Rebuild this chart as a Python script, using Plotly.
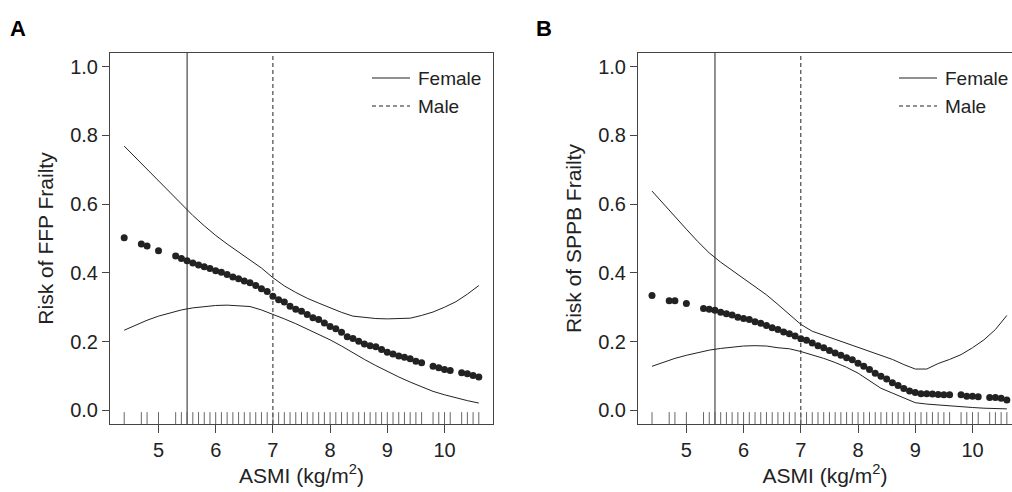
import plotly.graph_objects as go

# ASMI values of the observations (rug + fitted points)
asmi = [4.4, 4.7, 4.8, 5.0, 5.3, 5.4, 5.5, 5.6, 5.7, 5.8, 5.9, 6.0, 6.1, 6.2, 6.3,
        6.4, 6.5, 6.6, 6.7, 6.8, 6.9, 7.0, 7.1, 7.2, 7.3, 7.4, 7.5, 7.6, 7.7, 7.8,
        7.9, 8.0, 8.1, 8.2, 8.3, 8.4, 8.5, 8.6, 8.7, 8.8, 8.9, 9.0, 9.1, 9.2, 9.3,
        9.4, 9.5, 9.6, 9.8, 9.9, 10.0, 10.1, 10.3, 10.4, 10.5, 10.6]

ffp_risk = [0.502, 0.484, 0.478, 0.464, 0.449, 0.442, 0.435, 0.429, 0.423, 0.418,
            0.413, 0.406, 0.402, 0.395, 0.388, 0.383, 0.376, 0.371, 0.363, 0.354,
            0.346, 0.332, 0.322, 0.315, 0.303, 0.294, 0.288, 0.279, 0.269, 0.264,
            0.254, 0.244, 0.237, 0.227, 0.214, 0.209, 0.201, 0.193, 0.188, 0.185,
            0.177, 0.169, 0.164, 0.158, 0.154, 0.150, 0.143, 0.138, 0.128, 0.124,
            0.119, 0.116, 0.109, 0.106, 0.101, 0.097]

sppb_risk = [0.334, 0.319, 0.319, 0.311, 0.296, 0.294, 0.291, 0.285, 0.281, 0.277,
             0.271, 0.267, 0.264, 0.258, 0.253, 0.247, 0.240, 0.235, 0.228, 0.223,
             0.216, 0.208, 0.204, 0.196, 0.188, 0.182, 0.174, 0.167, 0.160, 0.153,
             0.147, 0.137, 0.128, 0.119, 0.108, 0.099, 0.091, 0.080, 0.072, 0.063,
             0.056, 0.052, 0.048, 0.048, 0.047, 0.046, 0.045, 0.045, 0.045, 0.041,
             0.041, 0.039, 0.037, 0.037, 0.035, 0.030]

# confidence bands
ci_x = [4.4, 4.6, 4.8, 5.0, 5.2, 5.4, 5.6, 5.8, 6.0, 6.2, 6.4, 6.6, 6.8, 7.0, 7.2, 7.4,
        7.6, 7.8, 8.0, 8.2, 8.4, 8.6, 8.8, 9.0, 9.2, 9.4, 9.6, 9.8, 10.0, 10.2, 10.4, 10.6]

ffp_upper = [0.769, 0.735, 0.701, 0.667, 0.634, 0.601, 0.567, 0.537, 0.509, 0.484,
             0.461, 0.438, 0.414, 0.386, 0.362, 0.343, 0.326, 0.312, 0.298, 0.285,
             0.274, 0.270, 0.267, 0.266, 0.266, 0.268, 0.276, 0.286, 0.300, 0.316,
             0.338, 0.363]
ffp_lower = [0.233, 0.248, 0.262, 0.274, 0.284, 0.292, 0.298, 0.302, 0.305, 0.306,
             0.305, 0.302, 0.292, 0.280, 0.266, 0.252, 0.237, 0.221, 0.205, 0.187,
             0.167, 0.148, 0.130, 0.113, 0.097, 0.082, 0.068, 0.055, 0.045, 0.036,
             0.028, 0.021]

sppb_upper = [0.638, 0.600, 0.563, 0.527, 0.491, 0.458, 0.431, 0.407, 0.385, 0.361,
              0.336, 0.308, 0.280, 0.250, 0.230, 0.218, 0.206, 0.194, 0.182, 0.170,
              0.160, 0.148, 0.133, 0.120, 0.120, 0.136, 0.148, 0.162, 0.182, 0.205,
              0.235, 0.276]
sppb_lower = [0.128, 0.140, 0.151, 0.160, 0.168, 0.175, 0.180, 0.184, 0.187, 0.188,
              0.187, 0.182, 0.179, 0.171, 0.162, 0.151, 0.139, 0.125, 0.108, 0.087,
              0.064, 0.050, 0.035, 0.022, 0.018, 0.015, 0.012, 0.010, 0.008, 0.006,
              0.005, 0.004]

female_cut = 5.5
male_cut = 7.0
legend_labels = ["Female", "Male"]

y_ticks = [0.0, 0.2, 0.4, 0.6, 0.8, 1.0]
x_ticks = [5, 6, 7, 8, 9, 10]

FONT = "Liberation Sans, Arial, Helvetica, sans-serif"
INK = "#222222"
AXIS = "#444444"
DASH = "4px,3px"
W, H = 1012, 492

fig = go.Figure()

panels = [
    ("x", "y", ffp_risk, ffp_upper, ffp_lower),
    ("x2", "y2", sppb_risk, sppb_upper, sppb_lower),
]

for xa, ya, risk, up, lo in panels:
    for band in (up, lo):
        fig.add_trace(go.Scatter(x=ci_x, y=band, mode="lines", xaxis=xa, yaxis=ya,
                                 line=dict(color=INK, width=1), showlegend=False,
                                 hoverinfo="skip"))
    fig.add_trace(go.Scatter(x=asmi, y=risk, mode="markers", xaxis=xa, yaxis=ya,
                             marker=dict(color=INK, size=7), showlegend=False))

shapes = []
annotations = []
for xa, leg_x in (("x", 372), ("x2", 899)):
    yd = "y domain" if xa == "x" else "y2 domain"
    shapes.append(dict(type="line", xref=xa, yref=yd, x0=female_cut, x1=female_cut,
                       y0=0, y1=1, line=dict(color=INK, width=1)))
    shapes.append(dict(type="line", xref=xa, yref=yd, x0=male_cut, x1=male_cut,
                       y0=0, y1=1, line=dict(color=INK, width=1, dash=DASH)))
    for v in asmi:
        shapes.append(dict(type="line", xref=xa, yref=yd, x0=v, x1=v, y0=0, y1=0.032,
                           line=dict(color="#666666", width=1)))
    # in-plot legend: solid = female cut-off, dashed = male cut-off
    for i, (label, dash) in enumerate(zip(legend_labels, ["solid", DASH])):
        ly = 1 - (78 + 28 * i) / H
        shapes.append(dict(type="line", xref="paper", yref="paper",
                           x0=leg_x / W, x1=(leg_x + 38) / W, y0=ly, y1=ly,
                           line=dict(color=INK, width=1, dash=dash)))
        annotations.append(dict(text=label, x=(leg_x + 44) / W, y=ly, xref="paper",
                                yref="paper", xanchor="left", yanchor="middle",
                                showarrow=False,
                                font=dict(family=FONT, size=19, color=INK)))

for label, lx in (("A", 8), ("B", 534)):
    annotations.append(dict(text="<b>" + label + "</b>", x=lx / W, y=1 - 14 / H,
                            xref="paper", yref="paper", xanchor="left", yanchor="top",
                            showarrow=False,
                            font=dict(family=FONT, size=22, color="black")))

tick_font = dict(family=FONT, size=20, color=INK)
title_font = dict(family=FONT, size=21, color=INK)

xcommon = dict(tickvals=x_ticks, ticks="outside", ticklen=8, tickcolor=AXIS,
               showline=True, linecolor=AXIS, linewidth=1, showgrid=False,
               zeroline=False, tickfont=tick_font,
               title=dict(text="ASMI (kg/m<sup>2</sup>)", font=title_font, standoff=6))
ycommon = dict(range=[-0.04, 1.04], tickvals=y_ticks, tickformat=".1f", ticks="outside",
               ticklen=7, tickcolor=AXIS, showline=True, linecolor=AXIS, linewidth=1,
               showgrid=False, zeroline=False, tickfont=tick_font)

ydom = [1 - 424 / H, 1 - 53 / H]

fig.update_layout(
    width=W, height=H,
    margin=dict(l=0, r=0, t=0, b=0),
    paper_bgcolor="white", plot_bgcolor="white",
    font=dict(family=FONT, color=INK),
    showlegend=False,
    xaxis=dict(xcommon, domain=[110 / W, 493 / W], range=[4.152, 10.848],
               mirror=True, anchor="y"),
    yaxis=dict(ycommon, domain=ydom, mirror=True, anchor="x",
               title=dict(text="Risk of FFP Frailty", font=title_font, standoff=10)),
    xaxis2=dict(xcommon, domain=[638 / W, 1.0], range=[4.155, 10.69],
                mirror=True, anchor="y2"),
    yaxis2=dict(ycommon, domain=ydom, anchor="x2",
                title=dict(text="Risk of SPPB Frailty", font=title_font, standoff=10)),
    shapes=shapes,
    annotations=annotations,
)

# drop the default page margin so the figure fills the window exactly
fig.write_html("out.html", config={"displayModeBar": False},
               post_script="document.body.style.margin='0';document.body.style.overflow='hidden';")
